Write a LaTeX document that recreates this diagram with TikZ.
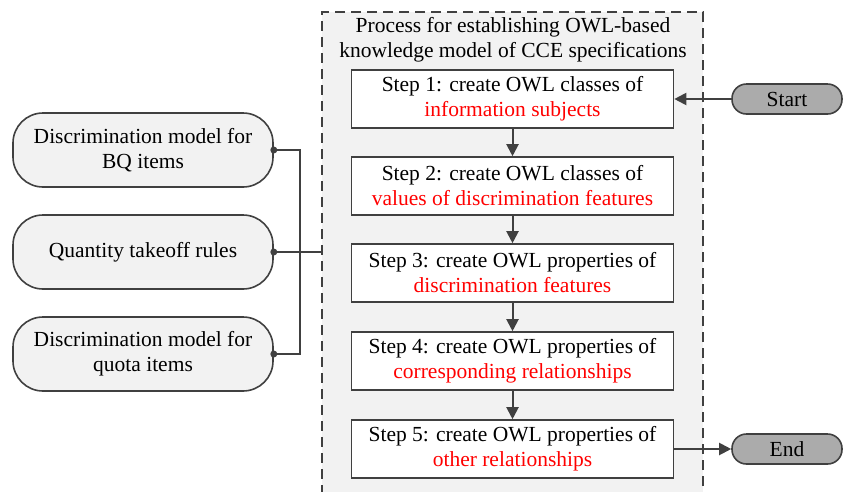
\documentclass[tikz,border=0pt]{standalone}
\usepackage{fontspec}
\setmainfont{Liberation Serif}
\usetikzlibrary{arrows.meta}
\definecolor{ln}{HTML}{404040}
\definecolor{lightbg}{HTML}{F2F2F2}
\definecolor{termfill}{HTML}{ABABAB}
\tikzset{
  txt/.style={font=\fontsize{21.5}{25}\selectfont, align=center, inner sep=0pt},
  stepbox/.style={txt, draw=ln, line width=1.6pt, fill=white, minimum width=322pt, minimum height=58pt},
  sidebox/.style={txt, draw=ln, line width=1.6pt, fill=lightbg, minimum width=260pt, minimum height=74pt, rounded corners=30pt},
  term/.style={txt, draw=ln, line width=1.6pt, fill=termfill, minimum width=110pt, minimum height=30pt, rounded corners=14.5pt},
  conn/.style={draw=ln, line width=2pt},
  arr/.style={conn, -{Triangle[length=12pt,width=12pt]}},
}
\begin{document}
\begin{tikzpicture}[x=1pt,y=-1pt]
\useasboundingbox (0,0) rectangle (843,491);
\clip (0,0) rectangle (843,491);
\node[draw=ln, dash pattern=on 10pt off 6pt, line width=1.5pt, fill=lightbg, minimum width=381pt, minimum height=493pt, inner sep=0pt] (proc) at (512.5,258.5) {};
\node[txt] (title) at (513,40) {Process for establishing OWL-based\\knowledge model of CCE specifications};
\node[stepbox] (s1) at (512.5,99) {Step 1: create OWL classes of\\\textcolor{red}{information subjects}};
\node[stepbox] (s2) at (512.5,186) {Step 2: create OWL classes of\\\textcolor{red}{values of discrimination features}};
\node[stepbox] (s3) at (512.5,273) {Step 3: create OWL properties of\\\textcolor{red}{discrimination features}};
\node[stepbox] (s4) at (512.5,361) {Step 4: create OWL properties of\\\textcolor{red}{corresponding relationships}};
\node[stepbox] (s5) at (512.5,449) {Step 5: create OWL properties of\\\textcolor{red}{other relationships}};
\node[term] (start) at (787,99) {Start};
\node[term] (end) at (787,449) {End};
\node[sidebox] (l1) at (143,150) {Discrimination model for\\BQ items};
\node[sidebox] (l2) at (143,252) {Quantity takeoff rules};
\node[sidebox] (l3) at (143,354) {Discrimination model for\\quota items};
\draw[arr] (s1) -- (s2);
\draw[arr] (s2) -- (s3);
\draw[arr] (s3) -- (s4);
\draw[arr] (s4) -- (s5);
\draw[arr] (start) -- (s1);
\draw[arr] (s5) -- (end);
\coordinate (j) at (300,252);
\draw[conn] (l1.east) -| (j);
\draw[conn] (l3.east) -| (j);
\draw[conn] (l2.east) -- (l2.east -| proc.west);
\fill[ln] (l1.east) circle (3.5pt) (l2.east) circle (3.5pt) (l3.east) circle (3.5pt);
\end{tikzpicture}
\end{document}
